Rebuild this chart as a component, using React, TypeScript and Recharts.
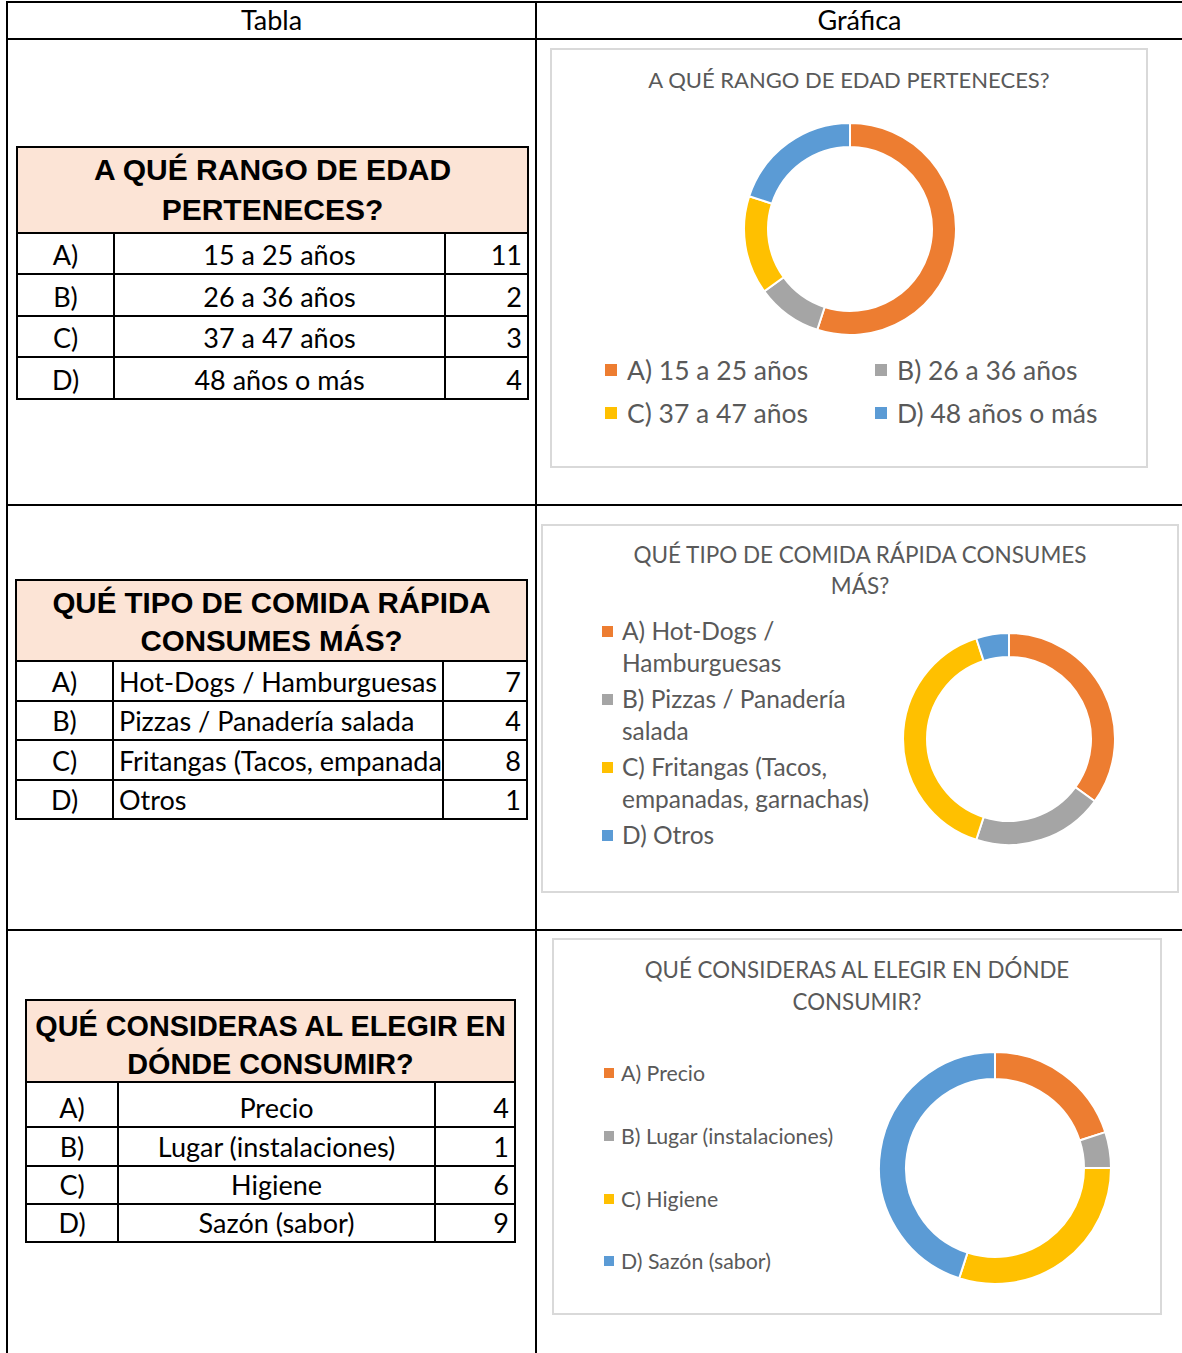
import React from 'react'
import { PieChart, Pie, Cell } from 'recharts'

const letters = ['A)', 'B)', 'C)', 'D)']
const sliceColors = ['#ED7D31', '#A5A5A5', '#FFC000', '#5B9BD5']

const ageTitle = ['A QUÉ RANGO DE EDAD', 'PERTENECES?']
const ageLabels = ['15 a 25 años', '26 a 36 años', '37 a 47 años', '48 años o más']
const ageValues = [11, 2, 3, 4]

const foodTitle = ['QUÉ TIPO DE COMIDA RÁPIDA', 'CONSUMES MÁS?']
const foodLabels = [
  'Hot-Dogs / Hamburguesas',
  'Pizzas / Panadería salada',
  'Fritangas (Tacos, empanadas, garnachas)',
  'Otros',
]
const foodValues = [7, 4, 8, 1]

const placeTitle = ['QUÉ CONSIDERAS AL ELEGIR EN', 'DÓNDE CONSUMIR?']
const placeLabels = ['Precio', 'Lugar (instalaciones)', 'Higiene', 'Sazón (sabor)']
const placeValues = [4, 1, 6, 9]

const CAL = 'Lato, Carlito, "Noto Sans", sans-serif'
const ARIAL = '"Liberation Sans", Arial, sans-serif'
const GREY_TEXT = '#595959'

function Line({ x, y, w, h, color = '#000' }: { x: number; y: number; w: number; h: number; color?: string }) {
  return <div style={{ position: 'absolute', left: x, top: y, width: w, height: h, background: color }} />
}

interface TableProps {
  cols: number[] // x edges
  rows: number[] // y edges: header top, header bottom, row bottoms...
  title: string[]
  labels: string[]
  values: number[]
  titleSize: number
  titleShift: number
  bodySize: number
  descAlign: 'center' | 'left'
}

function DataTable({ cols, rows, title, labels, values, titleSize, titleShift, bodySize, descAlign }: TableProps) {
  const left = cols[0]
  const right = cols[cols.length - 1]
  const top = rows[0]
  const bottom = rows[rows.length - 1]
  const els: React.ReactNode[] = []
  els.push(
    <div
      key="hdr"
      style={{
        position: 'absolute',
        left,
        top,
        width: right - left,
        height: rows[1] - top,
        background: '#FCE4D6',
        display: 'flex',
        flexDirection: 'column',
        justifyContent: 'center',
        alignItems: 'center',
        fontFamily: ARIAL,
        fontWeight: 700,
        fontSize: titleSize,
        lineHeight: `${(rows[1] - top) / 2 - 3}px`,
        color: '#000',
        boxSizing: 'border-box',
        paddingTop: titleShift * 2,
      }}
    >
      {title.map((t) => (
        <div key={t} style={{ whiteSpace: 'nowrap' }}>{t}</div>
      ))}
    </div>,
  )
  labels.forEach((lab, i) => {
    const y0 = rows[i + 1]
    const y1 = rows[i + 2]
    // excel cells: text sits on the bottom of the cell, long text is clipped
    const cell = (key: string, x0: number, x1: number, text: string, align: string, pad: number) => (
      <div
        key={key}
        style={{
          position: 'absolute',
          left: x0,
          top: y0,
          width: x1 - x0,
          height: y1 - y0,
          display: 'flex',
          alignItems: 'flex-end',
          justifyContent: align,
          fontFamily: CAL,
          fontSize: bodySize,
          lineHeight: '34px',
          color: '#000',
          overflow: 'hidden',
          whiteSpace: 'nowrap',
          boxSizing: 'border-box',
          paddingBottom: 2,
          paddingLeft: align === 'flex-start' ? pad : 0,
          paddingRight: align === 'flex-end' ? pad : 0,
        }}
      >
        {text}
      </div>
    )
    els.push(cell(`l${i}`, cols[0], cols[1], letters[i], 'center', 0))
    els.push(cell(`d${i}`, cols[1], cols[2], lab, descAlign === 'center' ? 'center' : 'flex-start', 6))
    els.push(cell(`v${i}`, cols[2], cols[3], String(values[i]), 'flex-end', 6))
  })
  rows.forEach((y, i) => els.push(<Line key={`h${i}`} x={left - 1} y={y - 1} w={right - left + 2} h={2} />))
  els.push(<Line key="vl" x={left - 1} y={top - 1} w={2} h={bottom - top + 2} />)
  els.push(<Line key="vr" x={right - 1} y={top - 1} w={2} h={bottom - top + 2} />)
  els.push(<Line key="c1" x={cols[1] - 1} y={rows[1]} w={2} h={bottom - rows[1]} />)
  els.push(<Line key="c2" x={cols[2] - 1} y={rows[1]} w={2} h={bottom - rows[1]} />)
  return <>{els}</>
}

interface DonutProps {
  box: [number, number, number, number] // x, y, w, h
  title: string[]
  titleTop: number
  titleSize: number
  titleLh: number
  labels: string[]
  values: number[]
  cx: number
  cy: number
  inner: number
  outer: number
  legend: React.ReactNode
}

function Donut({ box, title, titleTop, titleSize, titleLh, labels, values, cx, cy, inner, outer, legend }: DonutProps) {
  const [bx, by, bw, bh] = box
  const data = labels.map((l, i) => ({ name: `${letters[i]} ${l}`, value: values[i] }))
  return (
    <div
      style={{
        position: 'absolute',
        left: bx,
        top: by,
        width: bw,
        height: bh,
        border: '2px solid #D9D9D9',
        boxSizing: 'border-box',
        background: '#fff',
      }}
    >
      <div
        style={{
          position: 'absolute',
          left: 0,
          top: titleTop - by - 2,
          width: bw - 4,
          textAlign: 'center',
          fontFamily: CAL,
          fontSize: titleSize,
          lineHeight: `${titleLh}px`,
          color: GREY_TEXT,
        }}
      >
        {title.map((t) => (
          <div key={t}>{t}</div>
        ))}
      </div>
      <div style={{ position: 'absolute', left: -2, top: -2 }}>
        <PieChart width={bw} height={bh} margin={{ top: 0, right: 0, bottom: 0, left: 0 }}>
          <Pie
            data={data}
            dataKey="value"
            cx={cx - bx}
            cy={cy - by}
            innerRadius={inner}
            outerRadius={outer}
            startAngle={90}
            endAngle={-270}
            stroke="#ffffff"
            strokeWidth={2}
            isAnimationActive={false}
          >
            {data.map((d, i) => (
              <Cell key={d.name} fill={sliceColors[i]} />
            ))}
          </Pie>
        </PieChart>
      </div>
      {legend}
    </div>
  )
}

function LegendItem({
  x,
  y,
  w,
  text,
  color,
  size,
  sq,
  gap,
  lh,
}: {
  x: number
  y: number
  w: number
  text: string
  color: string
  size: number
  sq: number
  gap: number
  lh: number
}) {
  return (
    <div
      style={{
        position: 'absolute',
        left: x,
        top: y,
        width: w,
        fontFamily: CAL,
        fontSize: size,
        lineHeight: `${lh}px`,
        color: GREY_TEXT,
        paddingLeft: sq + gap,
        boxSizing: 'border-box',
      }}
    >
      <span
        style={{
          position: 'absolute',
          left: 0,
          top: (lh - sq) / 2,
          width: sq,
          height: sq,
          background: color,
        }}
      />
      {text}
    </div>
  )
}

export default function App() {
  // chart 1 legend: 2 x 2 grid
  const legend1 = ageLabels.map((l, i) => (
    <LegendItem
      key={l}
      x={(i % 2 === 0 ? 605 : 875) - 552}
      y={(i < 2 ? 370 : 413) - 17 - 50}
      w={270}
      text={`${letters[i]} ${l}`}
      color={sliceColors[i]}
      size={26.5}
      sq={12}
      gap={10}
      lh={34}
    />
  ))
  const foodTops = [631, 699, 767, 835]
  const legend2 = foodLabels.map((l, i) => (
    <LegendItem
      key={l}
      x={602 - 543}
      y={foodTops[i] - 16 - 526}
      w={282}
      text={`${letters[i]} ${l}`}
      color={sliceColors[i]}
      size={24.5}
      sq={11}
      gap={9}
      lh={32}
    />
  ))
  const placeTops = [1073, 1136, 1199, 1261]
  const legend3 = placeLabels.map((l, i) => (
    <LegendItem
      key={l}
      x={604 - 554}
      y={placeTops[i] - 15 - 940}
      w={300}
      text={`${letters[i]} ${l}`}
      color={sliceColors[i]}
      size={21.3}
      sq={10}
      gap={7}
      lh={30}
    />
  ))

  return (
    <div
      style={{
        position: 'absolute',
        left: 0,
        top: 0,
        width: 1182,
        height: 1353,
        background: '#fff',
        overflow: 'hidden',
      }}
    >
      {/* outer grid */}
      <Line x={6} y={1} w={1176} h={2} />
      <Line x={6} y={1} w={2} h={1352} />
      <Line x={535} y={1} w={2} h={1352} />
      <Line x={6} y={38} w={1176} h={2} />
      <Line x={6} y={504} w={1176} h={2} />
      <Line x={6} y={929} w={1176} h={2} />
      <div
        style={{
          position: 'absolute',
          left: 8,
          top: 2,
          width: 527,
          height: 35,
          lineHeight: '35px',
          textAlign: 'center',
          fontFamily: CAL,
          fontSize: 27,
        }}
      >
        Tabla
      </div>
      <div
        style={{
          position: 'absolute',
          left: 537,
          top: 2,
          width: 645,
          height: 35,
          lineHeight: '35px',
          textAlign: 'center',
          fontFamily: CAL,
          fontSize: 27,
        }}
      >
        Gráfica
      </div>

      <DataTable
        cols={[17, 114, 445, 528]}
        rows={[147, 233, 274, 316, 357, 399]}
        title={ageTitle}
        labels={ageLabels}
        values={ageValues}
        titleSize={30}
        titleShift={0}
        bodySize={27}
        descAlign="center"
      />
      <DataTable
        cols={[16, 113, 443, 527]}
        rows={[580, 661, 701, 740, 780, 819]}
        title={foodTitle}
        labels={foodLabels}
        values={foodValues}
        titleSize={29.5}
        titleShift={1}
        bodySize={27}
        descAlign="left"
      />
      <DataTable
        cols={[26, 118, 435, 515]}
        rows={[1000, 1082, 1127, 1166, 1204, 1242]}
        title={placeTitle}
        labels={placeLabels}
        values={placeValues}
        titleSize={28.8}
        titleShift={4}
        bodySize={27}
        descAlign="center"
      />

      <Donut
        box={[550, 48, 598, 420]}
        title={['A QUÉ RANGO DE EDAD PERTENECES?']}
        titleTop={64}
        titleSize={22}
        titleLh={32}
        labels={ageLabels}
        values={ageValues}
        cx={850}
        cy={229}
        inner={82}
        outer={106}
        legend={legend1}
      />
      <Donut
        box={[541, 524, 638, 369]}
        title={['QUÉ TIPO DE COMIDA RÁPIDA CONSUMES', 'MÁS?']}
        titleTop={539}
        titleSize={22.5}
        titleLh={31}
        labels={foodLabels}
        values={foodValues}
        cx={1009}
        cy={739}
        inner={82}
        outer={106}
        legend={legend2}
      />
      <Donut
        box={[552, 938, 610, 377]}
        title={['QUÉ CONSIDERAS AL ELEGIR EN DÓNDE', 'CONSUMIR?']}
        titleTop={954}
        titleSize={22.3}
        titleLh={32}
        labels={placeLabels}
        values={placeValues}
        cx={995}
        cy={1168}
        inner={89}
        outer={116}
        legend={legend3}
      />
    </div>
  )
}
